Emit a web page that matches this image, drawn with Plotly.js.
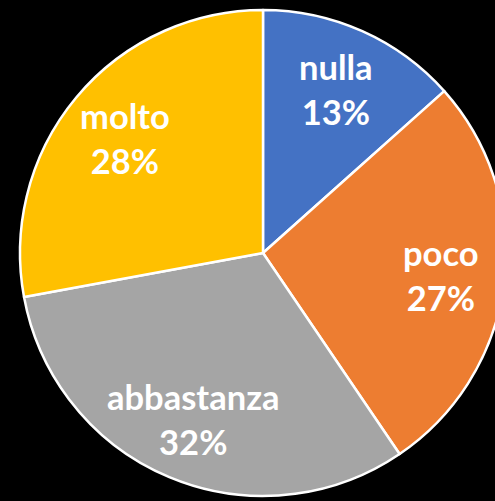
<!DOCTYPE html>
<html>
<head>
<meta charset="utf-8">
<script src="https://cdn.plot.ly/plotly-3.0.1.min.js"></script>
<style>
html, body { margin: 0; padding: 0; background: #000; overflow: hidden; width: 495px; height: 501px; }
#chart { width: 526px; height: 501px; }
</style>
</head>
<body>
<div id="chart"></div>
<script>
const categories = ["nulla", "poco", "abbastanza", "molto"];
const values = [13.4, 27.1, 31.6, 27.9];
const colors = ["#4472C4", "#ED7D31", "#A5A5A5", "#FFC000"];

const total = values.reduce((a, b) => a + b, 0);
const labelFont = { family: "Lato, 'Open Sans', sans-serif", size: 34.5, color: "#FFFFFF", weight: "bold" };
const labelRadius = 0.74; // fraction of pie radius for data labels

// Data labels placed at each slice's mid-angle, derived from the values
// (plot area is square, so the pie spans the full paper domain: radius = 0.5 in paper units)
let cum = 0;
const annotations = categories.map((cat, i) => {
  const mid = (cum + values[i] / 2) / total;
  cum += values[i];
  const theta = mid * 2 * Math.PI; // clockwise from 12 o'clock
  return {
    xref: "paper", yref: "paper",
    x: 0.5 + 0.5 * labelRadius * Math.sin(theta),
    y: 0.5 + 0.5 * labelRadius * Math.cos(theta),
    xanchor: "center", yanchor: "middle",
    showarrow: false,
    text: cat + "<br>" + Math.round(values[i] / total * 100) + "%",
    font: labelFont,
    align: "center"
  };
});

const trace = {
  type: "pie",
  labels: categories,
  values: values,
  sort: false,
  direction: "clockwise",
  rotation: 0,
  marker: { colors: colors, line: { color: "#FFFFFF", width: 2.5 } },
  textinfo: "none",
  hoverinfo: "none",
  showlegend: false
};

const layout = {
  width: 526,
  height: 501,
  margin: { l: 20, r: 20, t: 10, b: 5, pad: 0 },
  paper_bgcolor: "#000000",
  plot_bgcolor: "#000000",
  showlegend: false,
  annotations: annotations
};

Plotly.newPlot("chart", [trace], layout, { displayModeBar: false, staticPlot: true });
</script>
</body>
</html>
